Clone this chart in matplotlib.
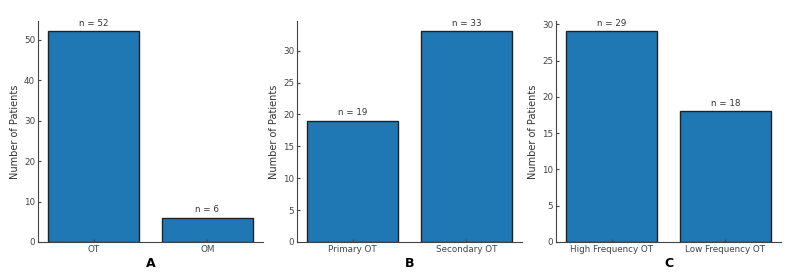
import matplotlib
matplotlib.use('Agg')
import matplotlib.pyplot as plt

# --- Data ---
cats_a = ['OT', 'OM']
vals_a = [52, 6]
cats_b = ['Primary OT', 'Secondary OT']
vals_b = [19, 33]
cats_c = ['High Frequency OT', 'Low Frequency OT']
vals_c = [29, 18]
panel_letters = ['A', 'B', 'C']

plt.rcParams.update({
    'font.family': 'DejaVu Sans',
    'font.size': 6.3,
    'text.color': '#333333',
    'axes.labelcolor': '#333333',
    'xtick.color': '#444444',
    'ytick.color': '#444444',
    'axes.edgecolor': '#444444',
})

fig = plt.figure(figsize=(8, 2.77), dpi=100)
lefts = [0.0475, 0.37125, 0.695]
panels = [(cats_a, vals_a), (cats_b, vals_b), (cats_c, vals_c)]

for left, (cats, vals), letter in zip(lefts, panels, panel_letters):
    ax = fig.add_axes([left, 0.1264, 0.28125, 0.798])
    bars = ax.bar(cats, vals, width=0.8, color='#1f77b4',
                  edgecolor='#222222', linewidth=1.0)
    for b, v in zip(bars, vals):
        ax.annotate(f'n = {v}', (b.get_x() + b.get_width() / 2, v),
                    xytext=(0, 2.5), textcoords='offset points',
                    ha='center', va='bottom', fontsize=6.3, color='#333333')
    ax.spines['top'].set_visible(False)
    ax.spines['right'].set_visible(False)
    ax.tick_params(direction='in', length=2.5, labelsize=6.3, pad=2)
    ax.set_ylabel('Number of Patients', fontsize=7, labelpad=3)
    fig.text(left + 0.28125 / 2, 0.05, letter, ha='center', va='center',
             fontsize=9, fontweight='bold', color='black')

plt.savefig('out.png', dpi=100)
